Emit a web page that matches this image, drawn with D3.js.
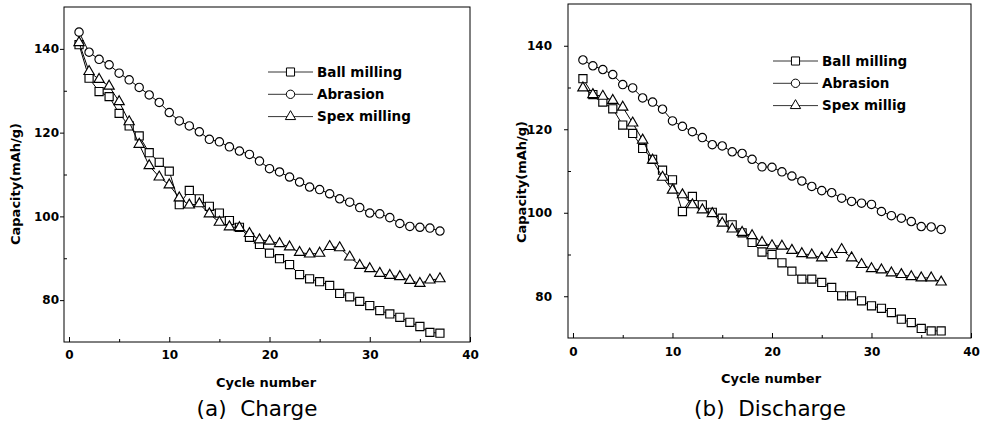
<!DOCTYPE html>
<html>
<head>
<meta charset="utf-8">
<script src="https://cdn.jsdelivr.net/npm/d3@7"></script>
<style>
  body { margin: 0; background: #fff; }
  svg { display: block; }
  .tick line { stroke: #000; }
  .domain { display: none; }
</style>
</head>
<body>
<svg id="chart" width="982" height="428"></svg>
<script>
// cycle numbers on the x axis
var cycles = [1,2,3,4,5,6,7,8,9,10,11,12,13,14,15,16,17,18,19,20,21,22,23,24,25,26,27,28,29,30,31,32,33,34,35,36,37];

// (a) charge capacity, mAh/g
var chargeBall = [141.0,133.0,129.8,128.6,124.6,121.6,119.2,115.2,112.9,110.8,102.8,106.2,104.2,102.4,100.8,99.0,97.4,95.0,93.3,91.2,89.9,88.5,86.1,85.1,84.4,83.5,81.6,80.8,79.7,78.7,77.5,76.7,75.9,74.7,73.7,72.3,72.1];
var chargeAbrasion = [144.0,139.2,137.5,136.2,134.2,132.6,130.8,129.0,127.2,124.8,122.8,121.6,120.2,118.4,117.8,116.6,115.6,114.8,113.2,111.4,110.6,109.4,108.2,107.0,106.4,105.4,104.2,103.4,102.1,100.8,100.6,99.7,98.3,97.6,97.4,97.2,96.5];
var chargeSpex = [141.5,134.6,132.7,131.1,127.4,122.6,117.2,112.1,109.4,107.5,104.4,102.7,103.0,100.6,98.6,97.5,97.3,95.9,94.4,94.1,93.5,92.7,91.4,91.0,91.2,92.8,92.5,90.3,88.3,87.5,86.4,85.9,85.6,84.7,84.0,84.8,85.1];

// (b) discharge capacity, mAh/g
var dischargeBall = [132.1,128.3,126.5,124.9,121.0,119.0,115.4,112.8,110.2,107.9,100.3,103.9,101.9,100.1,98.7,97.1,95.2,92.9,90.6,90.0,88.0,86.0,84.1,84.1,83.3,82.1,80.1,80.1,78.9,77.7,77.1,76.1,74.5,73.7,72.3,71.7,71.7];
var dischargeAbrasion = [136.6,135.2,134.3,133.1,130.7,129.9,127.5,126.5,124.8,122.0,120.7,119.4,118.0,116.3,116.0,114.6,114.2,112.8,111.0,110.9,109.8,108.8,107.6,106.3,105.3,104.8,103.5,102.7,102.3,102.0,100.3,99.3,98.7,97.9,96.7,96.6,96.0];
var dischargeSpex = [129.9,128.3,127.9,126.9,125.3,121.5,117.4,112.6,108.5,105.4,104.3,101.9,100.7,99.8,97.5,96.1,95.3,94.5,92.9,92.1,92.0,91.0,90.2,89.9,89.2,90.0,91.2,89.2,87.6,86.6,86.3,85.6,85.2,84.7,84.4,84.4,83.4];

var chargeNames = ["Ball milling", "Abrasion", "Spex milling"];
var dischargeNames = ["Ball milling", "Abrasion", "Spex millig"];

var xTicks = [0, 10, 20, 30, 40];
var xMinorTicks = [5, 15, 25, 35];
var yTicks = [80, 100, 120, 140];
var yMinorTicks = [90, 110, 130];

var svg = d3.select("#chart");
var fontB = "'DejaVu Sans', Verdana, sans-serif";

// marker shapes in the same order as the series
var shapes = [
  d3.symbol().type(d3.symbolSquare).size(66),
  d3.symbol().type(d3.symbolCircle).size(55),
  d3.symbol().type(d3.symbolTriangle).size(46)
];

function drawPanel(p) {
  var x = d3.scaleLinear().domain([-0.5, 40]).range([p.left, p.right]);
  var y = d3.scaleLinear().domain([70, 150]).range([p.bottom, p.top]);
  var g = svg.append("g");

  // frame
  g.append("rect")
    .attr("x", p.left).attr("y", p.top)
    .attr("width", p.right - p.left).attr("height", p.bottom - p.top)
    .attr("fill", "none").attr("stroke", "#000").attr("stroke-width", 1);

  // x axis, ticks pointing in
  g.append("g").attr("transform", "translate(0," + p.bottom + ")")
    .call(d3.axisBottom(x).tickValues(xTicks).tickSize(-5).tickPadding(p.xPad).tickFormat(d3.format("d")));
  g.append("g").attr("transform", "translate(0," + p.bottom + ")")
    .call(d3.axisBottom(x).tickValues(xMinorTicks).tickSize(-3).tickFormat(""));

  // y axis
  g.append("g").attr("transform", "translate(" + p.left + ",0)")
    .call(d3.axisLeft(y).tickValues(yTicks).tickSize(4).tickPadding(p.yPad));
  g.append("g").attr("transform", "translate(" + p.left + ",0)")
    .call(d3.axisLeft(y).tickValues(yMinorTicks).tickSize(-3).tickFormat(""));

  g.selectAll(".tick text")
    .attr("font-family", fontB).attr("font-weight", "bold")
    .attr("font-size", 12).attr("fill", "#000");

  // series
  p.series.forEach(function(vals, i) {
    var pts = cycles.map(function(c, j) { return [c, vals[j]]; });
    var line = d3.line().x(function(d) { return x(d[0]); }).y(function(d) { return y(d[1]); });
    g.append("path").attr("d", line(pts))
      .attr("fill", "none").attr("stroke", "#000").attr("stroke-width", 1);
    g.selectAll(".m" + i).data(pts).enter().append("path")
      .attr("class", "m" + i)
      .attr("d", shapes[i])
      .attr("transform", function(d) { return "translate(" + x(d[0]) + "," + y(d[1]) + ")"; })
      .attr("fill", "#fff").attr("stroke", "#000").attr("stroke-width", 1.15);
  });

  // legend
  p.names.forEach(function(name, i) {
    var ly = p.legY + i * 22.3;
    g.append("line")
      .attr("x1", p.legX).attr("x2", p.legX + 45)
      .attr("y1", ly).attr("y2", ly)
      .attr("stroke", "#000").attr("stroke-width", 0.8);
    g.append("path").attr("d", shapes[i])
      .attr("transform", "translate(" + (p.legX + 22.5) + "," + ly + ")")
      .attr("fill", "#fff").attr("stroke", "#000").attr("stroke-width", 1);
    g.append("text")
      .attr("x", p.legX + 49).attr("y", ly)
      .attr("dy", "0.35em")
      .attr("font-family", fontB).attr("font-weight", "bold").attr("font-size", 13.5)
      .text(name);
  });

  // axis titles
  g.append("text")
    .attr("transform", "translate(" + p.yTitleX + "," + p.yTitleY + ") rotate(-90)")
    .attr("text-anchor", "middle").attr("dy", "0.35em")
    .attr("font-family", fontB).attr("font-weight", "bold").attr("font-size", 13)
    .text("Capacity(mAh/g)");
  g.append("text")
    .attr("x", p.xTitleX).attr("y", p.xTitleY)
    .attr("text-anchor", "middle").attr("dy", "0.35em")
    .attr("font-family", fontB).attr("font-weight", "bold").attr("font-size", 13)
    .text("Cycle number");
  g.append("text")
    .attr("x", p.capX).attr("y", p.capY)
    .attr("text-anchor", "middle").attr("dy", "0.35em")
    .attr("font-family", fontB).attr("font-size", 21.5)
    .attr("xml:space", "preserve")
    .text(p.caption);
}

drawPanel({
  left: 64, right: 470, top: 7, bottom: 342,
  xPad: 8, yPad: 1,
  series: [chargeBall, chargeAbrasion, chargeSpex],
  names: chargeNames,
  legX: 268, legY: 72,
  yTitleX: 15, yTitleY: 184,
  xTitleX: 266, xTitleY: 382,
  capX: 257, capY: 408,
  caption: "(a)  Charge"
});

drawPanel({
  left: 568, right: 971, top: 4, bottom: 338,
  xPad: 9, yPad: 12,
  series: [dischargeBall, dischargeAbrasion, dischargeSpex],
  names: dischargeNames,
  legX: 773, legY: 61,
  yTitleX: 521, yTitleY: 182,
  xTitleX: 771, xTitleY: 378,
  capX: 770, capY: 408,
  caption: "(b)  Discharge"
});
</script>
</body>
</html>
